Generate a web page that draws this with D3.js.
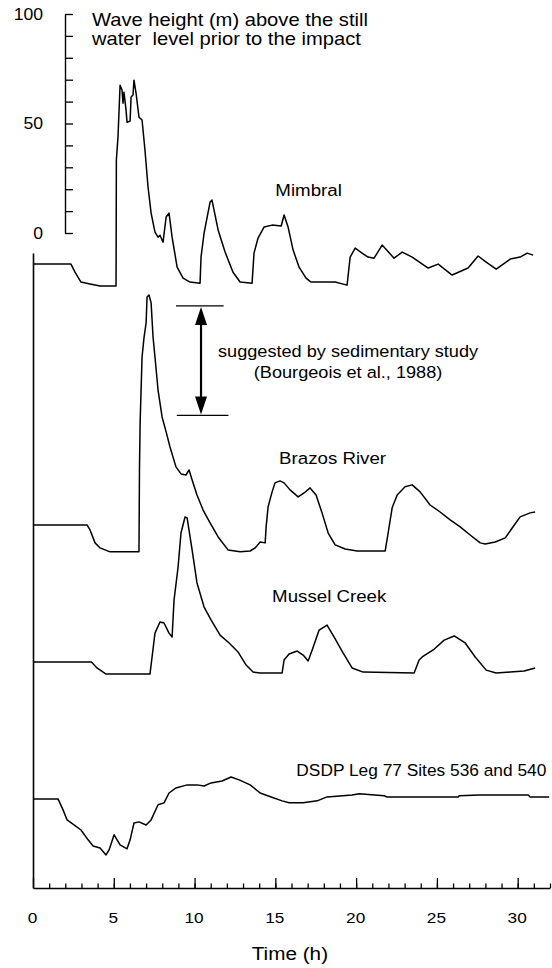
<!DOCTYPE html>
<html>
<head>
<meta charset="utf-8">
<script src="https://cdn.jsdelivr.net/npm/d3@7"></script>
<style>
  html, body { margin: 0; padding: 0; background: #fff; }
  svg { display: block; font-family: "Liberation Sans", Arial, sans-serif; }
</style>
</head>
<body>
<svg id="chart" width="552" height="968"></svg>
<script>
// [time (h), wave height (m) above the still water level of each site]
const mimbral = [
  [0, 0], [2.35, 0], [2.6, -3.7], [2.97, -8.2], [3.53, -9.1], [4.15, -10], [5.14, -10],
  [5.16, 47.5], [5.26, 58], [5.39, 81.7], [5.51, 79.5], [5.57, 73.5], [5.63, 78.5], [5.76, 70.3],
  [5.82, 64.8], [6.01, 65.3], [6.07, 76.3], [6.19, 77.2], [6.25, 84], [6.38, 78], [6.56, 67.1],
  [6.75, 65.8], [6.93, 52.1], [7.12, 35.2], [7.31, 23.3], [7.55, 14.6], [7.74, 12.3], [7.86, 13.2],
  [8.05, 10], [8.24, 21.5], [8.42, 23.3], [8.61, 12.3], [8.92, -1.4], [9.29, -6.4], [9.72, -8.2],
  [10.34, -8.7], [10.4, 3.2], [10.59, 14.2], [10.96, 28.3], [11.08, 29.2], [11.46, 15.5], [11.89, 5.5],
  [12.38, -3.7], [12.82, -8.2], [13.56, -8.7], [13.68, 5], [13.93, 11.9], [14.3, 16.9], [14.8, 17.8],
  [15.36, 17.4], [15.54, 22.4], [15.79, 16.9], [16.1, 6.4], [16.47, -1.4], [16.9, -6.4], [17.21, -8.2],
  [18.7, -8.2], [19.44, -9.6], [19.63, 3.2], [19.94, 7.3], [20.37, 5], [20.74, 3.2], [21.11, 2.7],
  [21.61, 8.7], [22.35, 2.7], [22.85, 5.5], [23.47, 3.2], [24.46, -1.8], [25.08, 0], [25.94, -5],
  [26.93, -1.8], [27.55, 3.7], [28.05, 0.9], [28.67, -2.3], [29.54, 2.3], [30.15, 3.2], [30.59, 5],
  [30.96, 4.1]
];
const brazos = [
  [0, 0], [3.34, 0], [3.53, -2.3], [3.84, -8.2], [4.15, -10.5], [4.77, -12.3], [6.56, -12.3],
  [6.59, 25.1], [6.63, 46.6], [6.75, 76.7], [6.87, 85.4], [7.0, 92.2], [7.06, 104.1], [7.18, 105],
  [7.31, 101.4], [7.43, 85.8], [7.55, 76.7], [7.74, 61.6], [7.99, 49.3], [8.24, 42.5], [8.48, 35.6],
  [8.85, 26.5], [9.16, 23.3], [9.47, 22.8], [9.66, 25.1], [9.85, 20.5], [10.15, 13.7], [10.53, 6.8],
  [10.96, 0.9], [11.46, -5.5], [12.07, -11.4], [12.82, -12.3], [13.44, -11.9], [13.75, -10.5],
  [14.06, -7.8], [14.37, -8.2], [14.43, -0.9], [14.55, 8.2], [14.8, 15.1], [14.98, 19.2], [15.29, 20.1],
  [15.54, 19.2], [15.91, 16], [16.41, 12.8], [16.78, 14.6], [17.15, 16.9], [17.52, 13.7], [17.89, 5.5],
  [18.27, -3.7], [18.7, -9.1], [19.32, -11], [20.06, -11.9], [21.8, -11.9], [21.98, -3.7], [22.23, 7.8],
  [22.54, 13.7], [23.03, 17.4], [23.47, 18.3], [23.96, 15.1], [24.58, 9.1], [25.2, 5.9], [25.82, 2.3],
  [26.44, -0.9], [27.06, -4.6], [27.68, -8.2], [27.99, -8.7], [28.61, -7.8], [29.23, -5.9], [29.66, -1.4],
  [30.15, 3.7], [30.77, 5.5], [31.08, 5.9]
];
const mussel = [
  [0, 0], [3.62, 0], [3.96, -2.7], [4.52, -5.5], [7.24, -5.5], [7.37, 2.3], [7.55, 13.2], [7.86, 18.3],
  [8.11, 17.8], [8.42, 13.2], [8.61, 11.4], [8.73, 28.3], [8.98, 43.4], [9.16, 58.9], [9.41, 66.2],
  [9.54, 65.8], [9.85, 51.1], [10.15, 36.1], [10.59, 25.1], [11.02, 19.2], [11.58, 12.3], [12.14, 8.7],
  [12.69, 4.6], [13.19, -1.4], [13.62, -4.6], [14.06, -5], [15.42, -5], [15.54, 0.9], [15.85, 3.7],
  [16.35, 5], [16.72, 3.2], [17.03, 0.5], [17.28, 5.5], [17.71, 14.6], [18.2, 16.9], [18.64, 11.4],
  [19.2, 4.1], [19.75, -2.7], [20.43, -4.6], [23.59, -5], [23.9, 0.9], [24.09, 2.3], [24.77, 5.5],
  [25.45, 10], [26.07, 11.9], [26.75, 8.7], [27.37, 2.3], [28.05, -3.7], [28.67, -5], [29.54, -4.6],
  [30.4, -4.1], [31.08, -2.7]
];
const dsdp = [
  [0, 0], [1.55, 0], [1.86, -5], [2.11, -9.6], [2.54, -11.9], [2.97, -14.2], [3.41, -18.7], [3.72, -21.5],
  [4.15, -22.4], [4.52, -25.6], [4.71, -23.3], [5.02, -16.4], [5.39, -21], [5.82, -22.8], [6.01, -18.7],
  [6.25, -11], [6.56, -10.5], [7.0, -11.9], [7.31, -9.6], [7.74, -2.7], [8.11, -1.8], [8.42, 2.7],
  [8.85, 5], [9.54, 6.4], [10.15, 6.4], [10.59, 5.9], [11.02, 7.3], [11.7, 8.2], [12.26, 10],
  [12.76, 8.7], [13.44, 6.4], [14.06, 2.7], [14.74, 0.9], [15.42, -0.9], [15.85, -1.8], [16.72, -1.8],
  [17.59, -0.9], [18.2, 0.9], [19.75, 1.8], [20.19, 2.3], [21.73, 1.4], [21.92, 0.9], [26.32, 0.9],
  [26.38, 1.4], [27.62, 1.8], [30.65, 1.8], [30.77, 0.9], [31.95, 0.9]
];

const stations = ['Mimbral', 'Brazos River', 'Mussel Creek', 'DSDP Leg 77 Sites 536 and 540'];
const series = [mimbral, brazos, mussel, dsdp];
// still water level of each trace, in metres on the scale bar
const baselines = [-14.2, -133.3, -195.9, -258.4];

const timeTicks = [0, 5, 10, 15, 20, 25, 30];
const heightTicks = [0, 50, 100];
const titleLines = ['Wave height (m) above the still', 'water  level prior to the impact'];
const noteLines = ['suggested by sedimentary study', '(Bourgeois et al., 1988)'];
const suggestedRange = [50, 100]; // Brazos River
const xLabel = 'Time (h)';

const svg = d3.select('#chart');

const x = d3.scaleLinear().domain([0, 32]).range([33, 550]);
const y = d3.scaleLinear().domain([0, 100]).range([233, 14]);
const yBottom = -299.1, yTop = -9.1;

function label(txt, px, py, size, anchor, sx) {
  return svg.append('text')
    .attr('transform', `translate(${px},${py}) scale(${sx || 1.1},1)`)
    .attr('font-size', size)
    .attr('text-anchor', anchor || 'start')
    .attr('fill', '#000')
    .style('white-space', 'pre')
    .text(txt);
}

// frame: left line and time axis
svg.append('g')
  .attr('transform', 'translate(33,0)')
  .call(d3.axisLeft(d3.scaleLinear().domain([yBottom, yTop]).range([y(yBottom), y(yTop)]))
    .tickValues([]).tickSizeOuter(0))
  .call(g => g.select('.domain').attr('stroke-width', 1.6));

svg.append('g')
  .attr('transform', `translate(0,${y(yBottom)})`)
  .call(d3.axisBottom(x).tickValues(d3.range(1, 33)).tickSizeInner(-4.5).tickSizeOuter(0).tickFormat(''))
  .call(g => g.select('.domain').remove())
  .call(g => g.selectAll('line').attr('stroke-width', 1.3));

const xAxis = svg.append('g')
  .attr('transform', `translate(0,${y(yBottom)})`)
  .call(d3.axisBottom(x).tickValues(timeTicks).tickSizeInner(-10).tickSizeOuter(0).tickPadding(24));
xAxis.select('.domain').attr('stroke-width', 1.6);
xAxis.selectAll('line').attr('stroke-width', 1.3);
xAxis.selectAll('text')
  .attr('font-size', 15)
  .attr('font-family', '"Liberation Sans", Arial, sans-serif')
  .attr('fill', '#000')
  .attr('transform', 'translate(-1,0) scale(1.15,1)');

// height scale bar
const bar = svg.append('g')
  .attr('transform', 'translate(65,0)')
  .call(d3.axisRight(y).tickValues(d3.range(0, 101, 10)).tickSize(8).tickSizeOuter(0).tickFormat(''));
bar.select('.domain').attr('stroke-width', 1.4);
bar.selectAll('line').attr('stroke-width', 1.3);

const barLabels = svg.append('g')
  .attr('transform', 'translate(65,0)')
  .call(d3.axisLeft(y).tickValues(heightTicks).tickSize(0).tickPadding(20));
barLabels.select('.domain').remove();
barLabels.selectAll('text')
  .attr('font-size', 16)
  .attr('font-family', '"Liberation Sans", Arial, sans-serif')
  .attr('fill', '#000')
  .attr('transform', 'scale(1.1,1)');

// traces
series.forEach((data, i) => {
  const line = d3.line()
    .x(d => x(d[0]))
    .y(d => y(d[1] + baselines[i]));
  svg.append('path')
    .datum(data)
    .attr('fill', 'none')
    .attr('stroke', '#000')
    .attr('stroke-width', 1.5)
    .attr('stroke-linejoin', 'round')
    .attr('d', line);
});

// site labels
label(stations[0], x(15.0), y(baselines[0] + 31), 17);
label(stations[1], x(15.23), y(baselines[1] + 27.9), 17);
label(stations[2], x(14.8), y(baselines[2] + 27.4), 17);
label(stations[3], x(16.3), y(baselines[3] + 10.5), 16.5, 'start', 1.05);

// title
label(titleLines[0], x(3.65), y(94.3), 18, 'start', 1.12);
label(titleLines[1], x(3.65), y(85.8), 18, 'start', 1.12);

// suggested range from sedimentary study (Brazos River)
const aTop = y(baselines[1] + suggestedRange[1]);
const aBot = y(baselines[1] + suggestedRange[0]);
const ax = x(10.4);
svg.append('line')
  .attr('x1', x(8.85)).attr('x2', x(11.8)).attr('y1', aTop).attr('y2', aTop)
  .attr('stroke', '#000').attr('stroke-width', 1.3);
svg.append('line')
  .attr('x1', x(8.9)).attr('x2', x(12.1)).attr('y1', aBot).attr('y2', aBot)
  .attr('stroke', '#000').attr('stroke-width', 1.3);
svg.append('line')
  .attr('x1', ax).attr('x2', ax).attr('y1', aTop + 10).attr('y2', aBot - 10)
  .attr('stroke', '#000').attr('stroke-width', 2.2);
const head = (tip, dir) => `M${ax},${tip}L${ax - 6},${tip + dir * 18}L${ax + 6},${tip + dir * 18}Z`;
svg.append('path').attr('d', head(aTop + 1, 1)).attr('fill', '#000');
svg.append('path').attr('d', head(aBot - 1, -1)).attr('fill', '#000');

label(noteLines[0], x(19.5), y(baselines[1] + 76.7), 16.5, 'middle', 1.1);
label(noteLines[1], x(19.5), y(baselines[1] + 67.1), 16.5, 'middle', 1.1);

// axis title
label(xLabel, x(15.9), y(yBottom) + 72, 18.5, 'middle', 1.12);
</script>
</body>
</html>
